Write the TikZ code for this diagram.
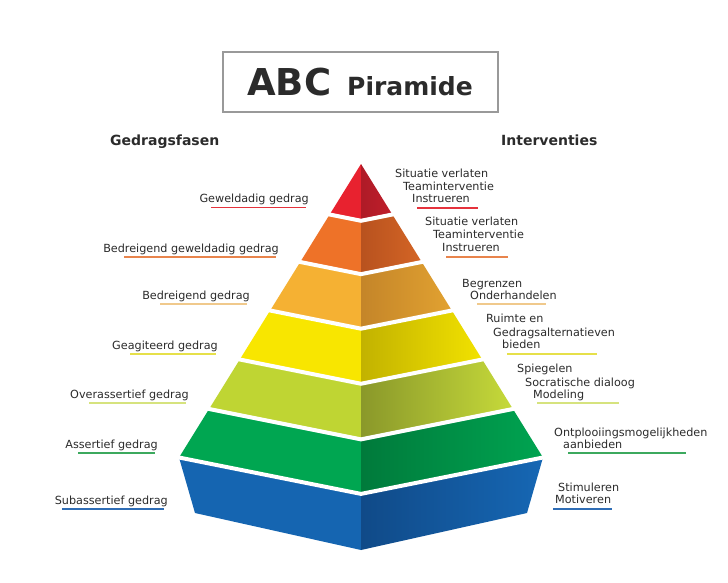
\documentclass[tikz,border=0pt]{standalone}
\usepackage{fontspec}
\setmainfont{DejaVu Sans}
\definecolor{txt}{HTML}{2B2B2B}
\definecolor{redL}{HTML}{E8222F}\definecolor{redD}{HTML}{AE1B27}\definecolor{redR}{HTML}{C01E2B}
\definecolor{orL}{HTML}{EE7228}\definecolor{orD}{HTML}{B8521F}\definecolor{orR}{HTML}{D46525}
\definecolor{amL}{HTML}{F5B133}\definecolor{amD}{HTML}{C48529}\definecolor{amR}{HTML}{E2A231}
\definecolor{yeL}{HTML}{F8E600}\definecolor{yeD}{HTML}{C2B200}\definecolor{yeR}{HTML}{F2E200}
\definecolor{liL}{HTML}{BFD533}\definecolor{liD}{HTML}{8A982A}\definecolor{liR}{HTML}{C6DA3A}
\definecolor{grL}{HTML}{00A651}\definecolor{grD}{HTML}{007A3B}\definecolor{grR}{HTML}{00A451}
\definecolor{blL}{HTML}{1565B1}\definecolor{blD}{HTML}{104A88}\definecolor{blR}{HTML}{1667B4}
\definecolor{ulred}{HTML}{E5323C}\definecolor{ulor}{HTML}{E8844C}\definecolor{ulam}{HTML}{F0C98C}
\definecolor{ulye}{HTML}{E6E04A}\definecolor{ulli}{HTML}{D6E37E}\definecolor{ulgr}{HTML}{3CA95E}
\definecolor{ulbl}{HTML}{2F6DB5}
\begin{document}
\begin{tikzpicture}[x=1pt,y=-1pt,
  lbl/.style={font=\fontsize{11.2}{13}\selectfont, text=txt, inner sep=0pt},
  head/.style={font=\fontsize{14}{17}\selectfont\bfseries, text=txt, inner sep=0pt},
  uline/.style={line width=1.6pt}]
\useasboundingbox (0,0) rectangle (728,583);
\fill[white] (0,0) rectangle (728,583);
% title
\draw[draw=black!75, line width=0.5pt, double=black!40, double distance=1.6pt] (223,52) rectangle (498,112);
\node[anchor=base west, inner sep=0pt, text=txt, font=\fontsize{37}{40}\selectfont\bfseries] (abc) at (247,96) {ABC};
\node[anchor=base west, inner sep=0pt, text=txt, font=\fontsize{25}{28}\selectfont\bfseries] (pir) at (347,96) {Piramide};
% headings
\node[head, anchor=base west] (hl) at (110,146) {Gedragsfasen};
\node[head, anchor=base west] (hr) at (501,146) {Interventies};
% pyramid tiers
\def\pcx{361}
\foreach \tyt/\tyb/\colA/\colB/\colC in {164/214.5/redL/redD/redR,214.5/262/orL/orD/orR,262/310.5/amL/amD/amR,310.5/359.5/yeL/yeD/yeR,359.5/409/liL/liD/liR,409/457.5/grL/grD/grR}{
  \pgfmathsetmacro\hwT{0.62*(\tyt-164)}
  \pgfmathsetmacro\hwB{0.62*(\tyb-164)}
  \pgfmathsetmacro\cyT{\tyt+0.2*\hwT}
  \pgfmathsetmacro\cyB{\tyb+0.2*\hwB}
  \fill[\colA] ({\pcx-\hwT},\tyt) -- (\pcx,\cyT) -- (\pcx,\cyB) -- ({\pcx-\hwB},\tyb) -- cycle;
  \shade[left color=\colB, right color=\colC] ({\pcx+\hwT},\tyt) -- (\pcx,\cyT) -- (\pcx,\cyB) -- ({\pcx+\hwB},\tyb) -- cycle;
}
% blue base
\fill[blL] (179,457.5) -- (361,494) -- (361,550) -- (195,513) -- cycle;
\shade[left color=blD, right color=blR] (543,457.5) -- (361,494) -- (361,550) -- (527,513) -- cycle;
% white gaps
\foreach \tyb in {214.5,262,310.5,359.5,409,457.5}{
  \pgfmathsetmacro\hwB{0.62*(\tyb-164)}
  \pgfmathsetmacro\cyB{\tyb+0.2*\hwB}
  \draw[white, line width=4pt, miter limit=20] ({\pcx-\hwB-6},{\tyb-1.2}) -- (\pcx,\cyB) -- ({\pcx+\hwB+6},{\tyb-1.2});
}
% left labels
\node[lbl, anchor=base east] (l1) at (309,202.5) {Geweldadig gedrag};
\node[lbl, anchor=base east] (l2) at (279,252) {Bedreigend geweldadig gedrag};
\node[lbl, anchor=base east] (l3) at (250,299.5) {Bedreigend gedrag};
\node[lbl, anchor=base east] (l4) at (218,349.5) {Geagiteerd gedrag};
\node[lbl, anchor=base east] (l5) at (189,398.5) {Overassertief gedrag};
\node[lbl, anchor=base east] (l6) at (158,448.5) {Assertief gedrag};
\node[lbl, anchor=base east] (l7) at (168,504) {Subassertief gedrag};
\draw[uline, ulred] (211,207.5) -- (306,207.5);
\draw[uline, ulor] (124,257) -- (276,257);
\draw[uline, ulam] (160,304) -- (247,304);
\draw[uline, ulye] (130,354) -- (216,354);
\draw[uline, ulli] (89,403) -- (186,403);
\draw[uline, ulgr] (78,453) -- (155,453);
\draw[uline, ulbl] (62,509) -- (164,509);
% right labels
\node[lbl, anchor=base west] (r1a) at (395,177.5) {Situatie verlaten};
\node[lbl, anchor=base west] (r1b) at (403,190) {Teaminterventie};
\node[lbl, anchor=base west] (r1c) at (412,202.5) {Instrueren};
\node[lbl, anchor=base west] (r2a) at (425,225.5) {Situatie verlaten};
\node[lbl, anchor=base west] (r2b) at (433,238.5) {Teaminterventie};
\node[lbl, anchor=base west] (r2c) at (442,251.5) {Instrueren};
\node[lbl, anchor=base west] (r3a) at (462,287.5) {Begrenzen};
\node[lbl, anchor=base west] (r3b) at (470,299.5) {Onderhandelen};
\node[lbl, anchor=base west] (r4a) at (486,322.5) {Ruimte en};
\node[lbl, anchor=base west] (r4b) at (493,336) {Gedragsalternatieven};
\node[lbl, anchor=base west] (r4c) at (502,348.5) {bieden};
\node[lbl, anchor=base west] (r5a) at (517,372.5) {Spiegelen};
\node[lbl, anchor=base west] (r5b) at (525,386) {Socratische dialoog};
\node[lbl, anchor=base west] (r5c) at (533,398.5) {Modeling};
\node[lbl, anchor=base west] (r6a) at (554,436.5) {Ontplooiingsmogelijkheden};
\node[lbl, anchor=base west] (r6b) at (563,448) {aanbieden};
\node[lbl, anchor=base west] (r7a) at (558,491.5) {Stimuleren};
\node[lbl, anchor=base west] (r7b) at (555,503.5) {Motiveren};
\draw[uline, ulred] (417,208) -- (478,208);
\draw[uline, ulor] (446,257) -- (508,257);
\draw[uline, ulam] (477,304) -- (546,304);
\draw[uline, ulye] (507,354) -- (597,354);
\draw[uline, ulli] (537,403) -- (619,403);
\draw[uline, ulgr] (568,453) -- (686,453);
\draw[uline, ulbl] (553,509) -- (612,509);
\end{tikzpicture}
\end{document}
